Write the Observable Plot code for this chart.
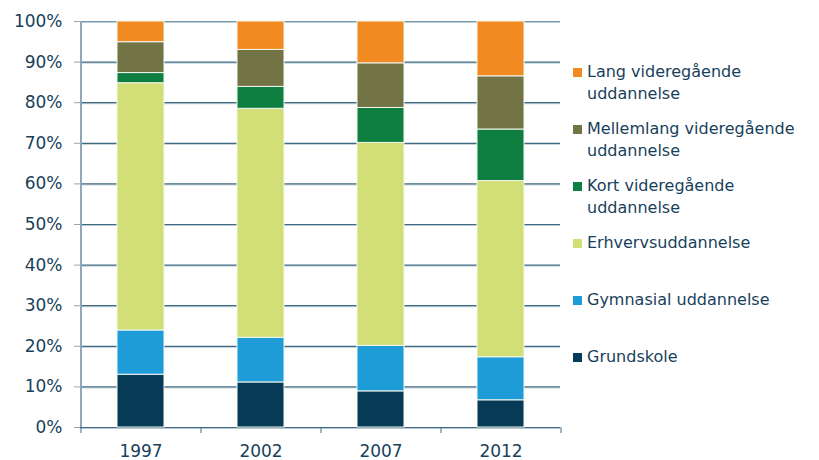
<!DOCTYPE html>
<html>
<head>
<meta charset="utf-8">
<script src="https://cdn.jsdelivr.net/npm/d3@7"></script>
<script src="https://cdn.jsdelivr.net/npm/@observablehq/plot@0.6"></script>
<style>
  body { margin: 0; background: #fff; }
  #wrap { position: relative; width: 819px; height: 460px; font-family: "DejaVu Sans", Verdana, sans-serif; }
  #legend { position: absolute; left: 573px; top: 61px; color: #183f5b; font-size: 16px; }
  .item { position: relative; height: 57px; line-height: 22px; white-space: nowrap; }
  .sw { position: absolute; left: 0; top: 7px; width: 9px; height: 9px; }
  .lab { position: absolute; left: 14px; top: 0; }
</style>
</head>
<body>
<div id="wrap"></div>
<script>
const years = ["1997", "2002", "2007", "2012"];
const series = [
  "Grundskole",
  "Gymnasial uddannelse",
  "Erhvervsuddannelse",
  "Kort videregående uddannelse",
  "Mellemlang videregående uddannelse",
  "Lang videregående uddannelse"
];
const legendLabels = [
  ["Grundskole"],
  ["Gymnasial uddannelse"],
  ["Erhvervsuddannelse"],
  ["Kort videregående", "uddannelse"],
  ["Mellemlang videregående", "uddannelse"],
  ["Lang videregående", "uddannelse"]
];
const colors = ["#063a57", "#1e9cd8", "#d1df76", "#0e7e41", "#737446", "#f28a22"];

const grundskole = [13.0, 11.1, 8.9, 6.7];
const gymnasial  = [10.9, 11.0, 11.2, 10.6];
const erhverv    = [60.9, 56.4, 50.0, 43.4];
const kort       = [2.5, 5.4, 8.6, 12.7];
const mellemlang = [7.6, 9.1, 11.0, 13.1];
const lang       = [5.1, 7.0, 10.3, 13.5];
const yTicks = [0, 10, 20, 30, 40, 50, 60, 70, 80, 90, 100];

const seriesValues = [grundskole, gymnasial, erhverv, kort, mellemlang, lang];
const data = [];
series.forEach((s, i) => years.forEach((y, j) => data.push({year: y, series: s, value: seriesValues[i][j]})));

const W = 819, H = 460, ML = 80, MR = 259, MT = 21, MB = 33;
const step = (W - ML - MR) / years.length;
const textColor = "#183f5b";
const FS = 17;

const chart = Plot.plot({
  width: W, height: H,
  marginLeft: ML, marginRight: MR, marginTop: MT, marginBottom: MB,
  style: {fontFamily: "DejaVu Sans, Verdana, sans-serif", fontSize: FS + "px", color: textColor, background: "#fff"},
  x: {domain: years, paddingInner: 0.61, paddingOuter: 0.305, label: null},
  y: {domain: [0, 100], label: null},
  color: {domain: series, range: colors},
  marks: [
    Plot.ruleY(yTicks, {stroke: "#b9cad4", strokeWidth: 1, dy: 1}),
    Plot.ruleY(yTicks, {stroke: d => d === 100 ? "#7b9aae" : "#3f6a83", strokeWidth: 1.2}),
    Plot.barY(data, Plot.stackY({order: series}, {x: "year", y: "value", fill: "series", z: "series", stroke: "#f4f7ee", strokeWidth: 1})),
    Plot.ruleX([years[0]], {dx: -step / 2, stroke: "#8fa7b6", strokeWidth: 2}),
    Plot.axisY(yTicks, {tickSize: 6, tickPadding: 12, tickFormat: d => d + "%", stroke: "#8fa7b6", fill: textColor, fontSize: FS, label: null}),
    Plot.axisX(years, {tickSize: 6, tickFormat: () => "", dx: -step / 2, stroke: "#3f6a83", label: null}),
    Plot.axisX([years[years.length - 1]], {tickSize: 6, tickFormat: () => "", dx: step / 2, stroke: "#3f6a83", label: null}),
    Plot.axisX(years, {tickSize: 0, tickPadding: 17, fill: textColor, fontSize: FS, label: null})
  ]
});
const wrap = document.getElementById("wrap");
wrap.appendChild(chart);

const legend = document.createElement("div");
legend.id = "legend";
for (let i = series.length - 1; i >= 0; i--) {
  const item = document.createElement("div");
  item.className = "item";
  const sw = document.createElement("div");
  sw.className = "sw";
  sw.style.background = colors[i];
  const lab = document.createElement("div");
  lab.className = "lab";
  lab.innerHTML = legendLabels[i].join("<br>");
  item.appendChild(sw);
  item.appendChild(lab);
  legend.appendChild(item);
}
wrap.appendChild(legend);
</script>
</body>
</html>
